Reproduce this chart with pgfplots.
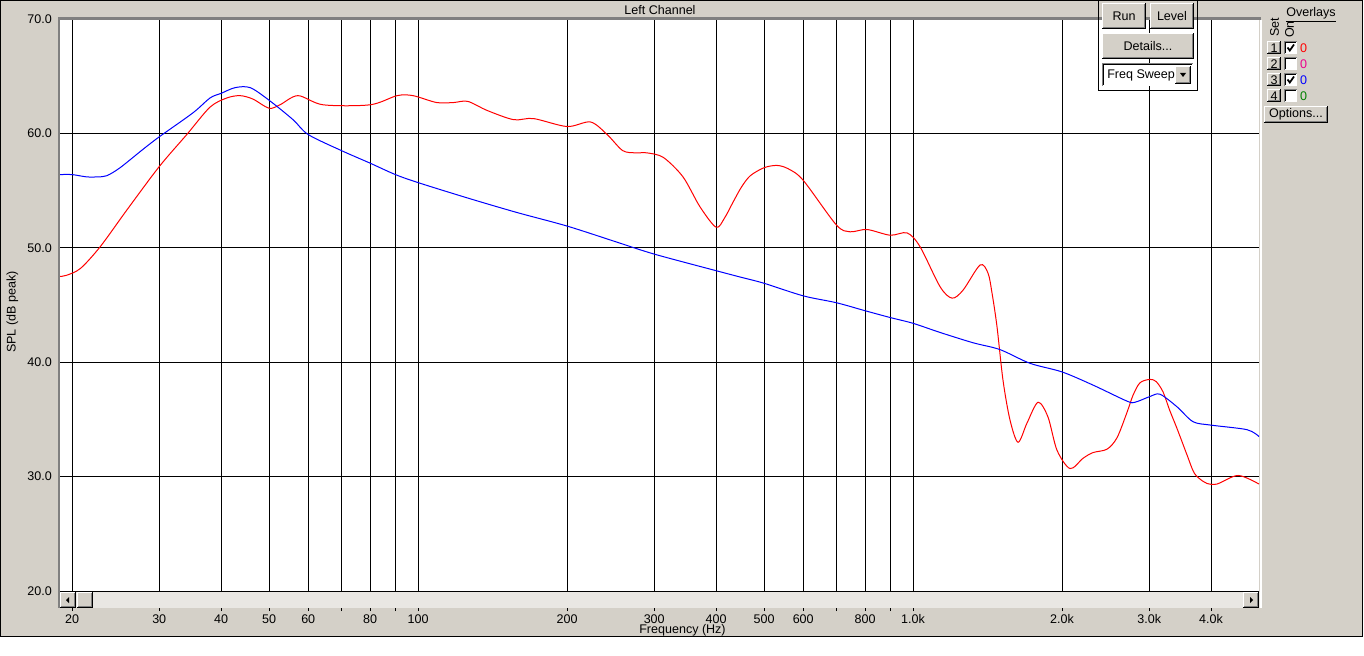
\documentclass[border=0pt]{standalone}
\usepackage{fontspec}
\setmainfont{Liberation Sans}
\usepackage{pgfplots}
\pgfplotsset{compat=1.18}
\definecolor{winbg}{RGB}{212,208,200}
\definecolor{dkgray}{RGB}{128,128,128}
\definecolor{sbfill}{RGB}{233,231,227}
\definecolor{ovgreen}{RGB}{0,128,0}
\newcommand{\uifont}{\fontsize{9.4}{11}\selectfont}
\newcommand{\btn}[5]{%
  \fill[winbg] (#1,#2) rectangle (#3,#4);
  \draw[white, line width=0.75pt] (#1+0.5,#4-1) -- (#1+0.5,#2+0.5) -- (#3-1,#2+0.5);
  \draw[dkgray, line width=0.75pt] (#1+1,#4-1.5) -- (#3-1.5,#4-1.5) -- (#3-1.5,#2+1);
  \draw[black, line width=0.75pt] (#1,#4-0.5) -- (#3-0.5,#4-0.5) -- (#3-0.5,#2);
  \node[font=\uifont, inner sep=0pt] at ({(#1+#3)/2},{(#2+#4)/2}) {#5};
}
\newcommand{\chk}[2]{%
  \fill[white] (1284,#1) rectangle (1297,#1+13);
  \draw[dkgray, line width=0.75pt] (1284.5,#1+13) -- (1284.5,#1+0.5) -- (1297,#1+0.5);
  \draw[black, line width=0.75pt] (1285.5,#1+12) -- (1285.5,#1+1.5) -- (1296,#1+1.5);
}
\pgfplotstableread{
f db
18.91 47.5
19.5 47.6
20.8 48.2
22.8 50.1
25.8 53.3
30 57.1
34.1 59.9
38.0 62.3
41.1 63.1
43.7 63.3
46.4 63.0
50 62.2
52.6 62.5
57.2 63.3
64.3 62.5
80 62.5
90.7 63.3
97.7 63.3
109 62.7
118 62.7
126 62.8
138 62.0
156 61.2
171 61.3
200 60.6
223 61.0
241 59.9
259 58.5
275 58.3
290 58.3
313 57.9
343 56.2
371 53.6
400 51.8
416 52.6
433 54.0
450 55.3
469 56.3
500 57.0
531 57.2
560 56.9
600 55.9
700 52.0
746 51.4
807 51.6
899 51.1
973 51.3
1033 50.1
1134 46.6
1199 45.6
1262 46.3
1366 48.5
1417 47.8
1444 46.05
1478 43.1
1520 38.4
1570 34.95
1630 33.0
1700 34.7
1789 36.5
1874 35.2
1954 32.3
2076 30.7
2205 31.6
2310 32.1
2466 32.4
2583 33.4
2705 35.6
2782 37.1
2874 38.2
3011 38.5
3100 38.3
3200 37.4
3300 35.8
3415 34.2
3577 31.9
3700 30.3
3850 29.6
3926 29.4
4112 29.35
4536 30.1
5000 29.35
}\redtab
\pgfplotstableread{
f db
18.91 56.4
20 56.4
21.4 56.2
22.5 56.2
23.5 56.3
25.0 57.0
27.8 58.6
30 59.7
35.1 61.8
38.0 63.1
40 63.5
42.7 64.0
45.8 64.0
50 62.9
55.9 61.2
60 59.9
70 58.5
80 57.4
90 56.4
100 55.7
126 54.35
158 53.1
200 51.9
252 50.5
300 49.45
400 48.0
447 47.45
500 46.9
600 45.8
700 45.2
800 44.5
900 43.9
1000 43.4
1134 42.6
1322 41.7
1499 41.1
1724 39.9
2000 39.15
2310 38.0
2705 36.6
2808 36.5
3011 37.0
3155 37.2
3415 36.1
3679 34.8
4000 34.5
4730 34.1
5000 33.5
}\bluetab
\begin{document}
\begin{tikzpicture}
\begin{scope}[x=0.75pt,y=-0.75pt]
  \fill[white] (0,0) rectangle (1364,656);
  \fill[winbg] (0,0) rectangle (1363,637);
  \draw[black,line width=0.75pt] (0.5,0.5) rectangle (1362.5,636.5);
\end{scope}
\begin{axis}[
  at={(45pt,-443.25pt)}, anchor=south west,
  scale only axis, width=899.25pt, height=429pt,
  xmode=log, xmin=18.91, xmax=5000, ymin=20, ymax=70,
  axis line style={draw=none},
  axis background/.style={fill=white},
  xtick={20,30,40,50,60,80,100,200,300,400,500,600,800,1000,2000,3000,4000},
  xticklabels={20,30,40,50,60,80,100,200,300,400,500,600,800,1.0k,2.0k,3.0k,4.0k},
  minor xtick={70,90,700,900},
  ytick={20,30,40,50,60,70},
  yticklabels={20.0,30.0,40.0,50.0,60.0,70.0},
  grid=both,
  major grid style={black,line width=0.75pt},
  minor grid style={black,line width=0.75pt},
  tick align=outside,
  major tick length=15pt, minor tick length=15pt,
  tick style={black,line width=0.75pt},
  ytick style={draw=none},
  xtick pos=left, ytick pos=left,
  tick label style={font=\uifont, text=black},
  xticklabel style={inner sep=0pt, anchor=north, yshift=-2.6pt},
  yticklabel style={inner sep=0pt, anchor=east, xshift=9pt},
]
\addplot[red, line width=0.75pt, smooth] table[x=f,y=db] {\redtab};
\addplot[blue, line width=0.75pt, smooth] table[x=f,y=db] {\bluetab};
\end{axis}
\begin{scope}[x=0.75pt,y=-0.75pt]
  % plot frame
  \fill[dkgray] (57.8,17.5) rectangle (1261,19.6);
  \fill[dkgray] (57.8,17.5) rectangle (60,608);
  \fill[white] (1259.6,19.6) rectangle (1262,608);
  % scrollbar
  \fill[sbfill] (60,591.6) rectangle (1259.6,608);
  \btn{60}{592}{76}{608}{}
  \fill[black] (66,600) -- (69,597) -- (69,603) -- cycle;
  \btn{77}{592}{93}{608}{}
  \btn{1243}{592}{1259}{608}{}
  \fill[black] (1253,600) -- (1250,597) -- (1250,603) -- cycle;
  % texts
  \node[font=\uifont, inner sep=0pt] at (660,10) {Left Channel};
  \node[font=\uifont, inner sep=0pt, rotate=90] at (12.5,312) {SPL (dB peak)};
  \node[font=\uifont, inner sep=0pt] at (682.5,630) {Frequency (Hz)};
  % control panel
  \draw[black,line width=0.75pt] (1098,0) -- (1098,90.5) -- (1197.5,90.5) -- (1197.5,0);
  \btn{1102}{3}{1146}{29}{Run}
  \btn{1150}{3}{1194}{29}{Level}
  \btn{1102}{33}{1194}{59}{Details...}
  \fill[white] (1102,63) rectangle (1193,86);
  \draw[dkgray, line width=0.75pt] (1102.5,86) -- (1102.5,63.5) -- (1193,63.5);
  \draw[black, line width=0.75pt] (1103.5,85) -- (1103.5,64.5) -- (1192,64.5);
  \node[font=\uifont, inner sep=0pt, anchor=west] at (1107,75) {Freq Sweep};
  \btn{1175}{66}{1191}{84}{}
  \fill[black] (1180,73) -- (1186,73) -- (1183,77) -- cycle;
  % overlays
  \node[font=\uifont, inner sep=0pt] at (1311,15) {\underline{Overlays}};
  \node[font=\uifont, inner sep=0pt, rotate=90] at (1274.5,27.5) {Set};
  \node[font=\uifont, inner sep=0pt, rotate=90] at (1289.5,29.5) {On};
  \btn{1267}{41.5}{1281}{54}{1}
  \btn{1267}{57.5}{1281}{70}{2}
  \btn{1267}{73.5}{1281}{86}{3}
  \btn{1267}{89.5}{1281}{102}{4}
  \chk{41.5}{} \chk{57.5}{} \chk{73.5}{} \chk{89.5}{}
  \draw[black, line width=1.3pt] (1287.5,47.5) -- (1289.8,50.5) -- (1294,44.5);
  \draw[black, line width=1.3pt] (1287.5,79.5) -- (1289.8,82.5) -- (1294,76.5);
  \node[font=\uifont, inner sep=0pt, text=red] at (1303.5,48) {0};
  \node[font=\uifont, inner sep=0pt, text=magenta] at (1303.5,64) {0};
  \node[font=\uifont, inner sep=0pt, text=blue] at (1303.5,80) {0};
  \node[font=\uifont, inner sep=0pt, text=ovgreen] at (1303.5,96) {0};
  \btn{1264}{106}{1328}{123}{Options...}
  \pgfresetboundingbox
  \useasboundingbox (0,0) rectangle (1364,656);
\end{scope}
\end{tikzpicture}
\end{document}
